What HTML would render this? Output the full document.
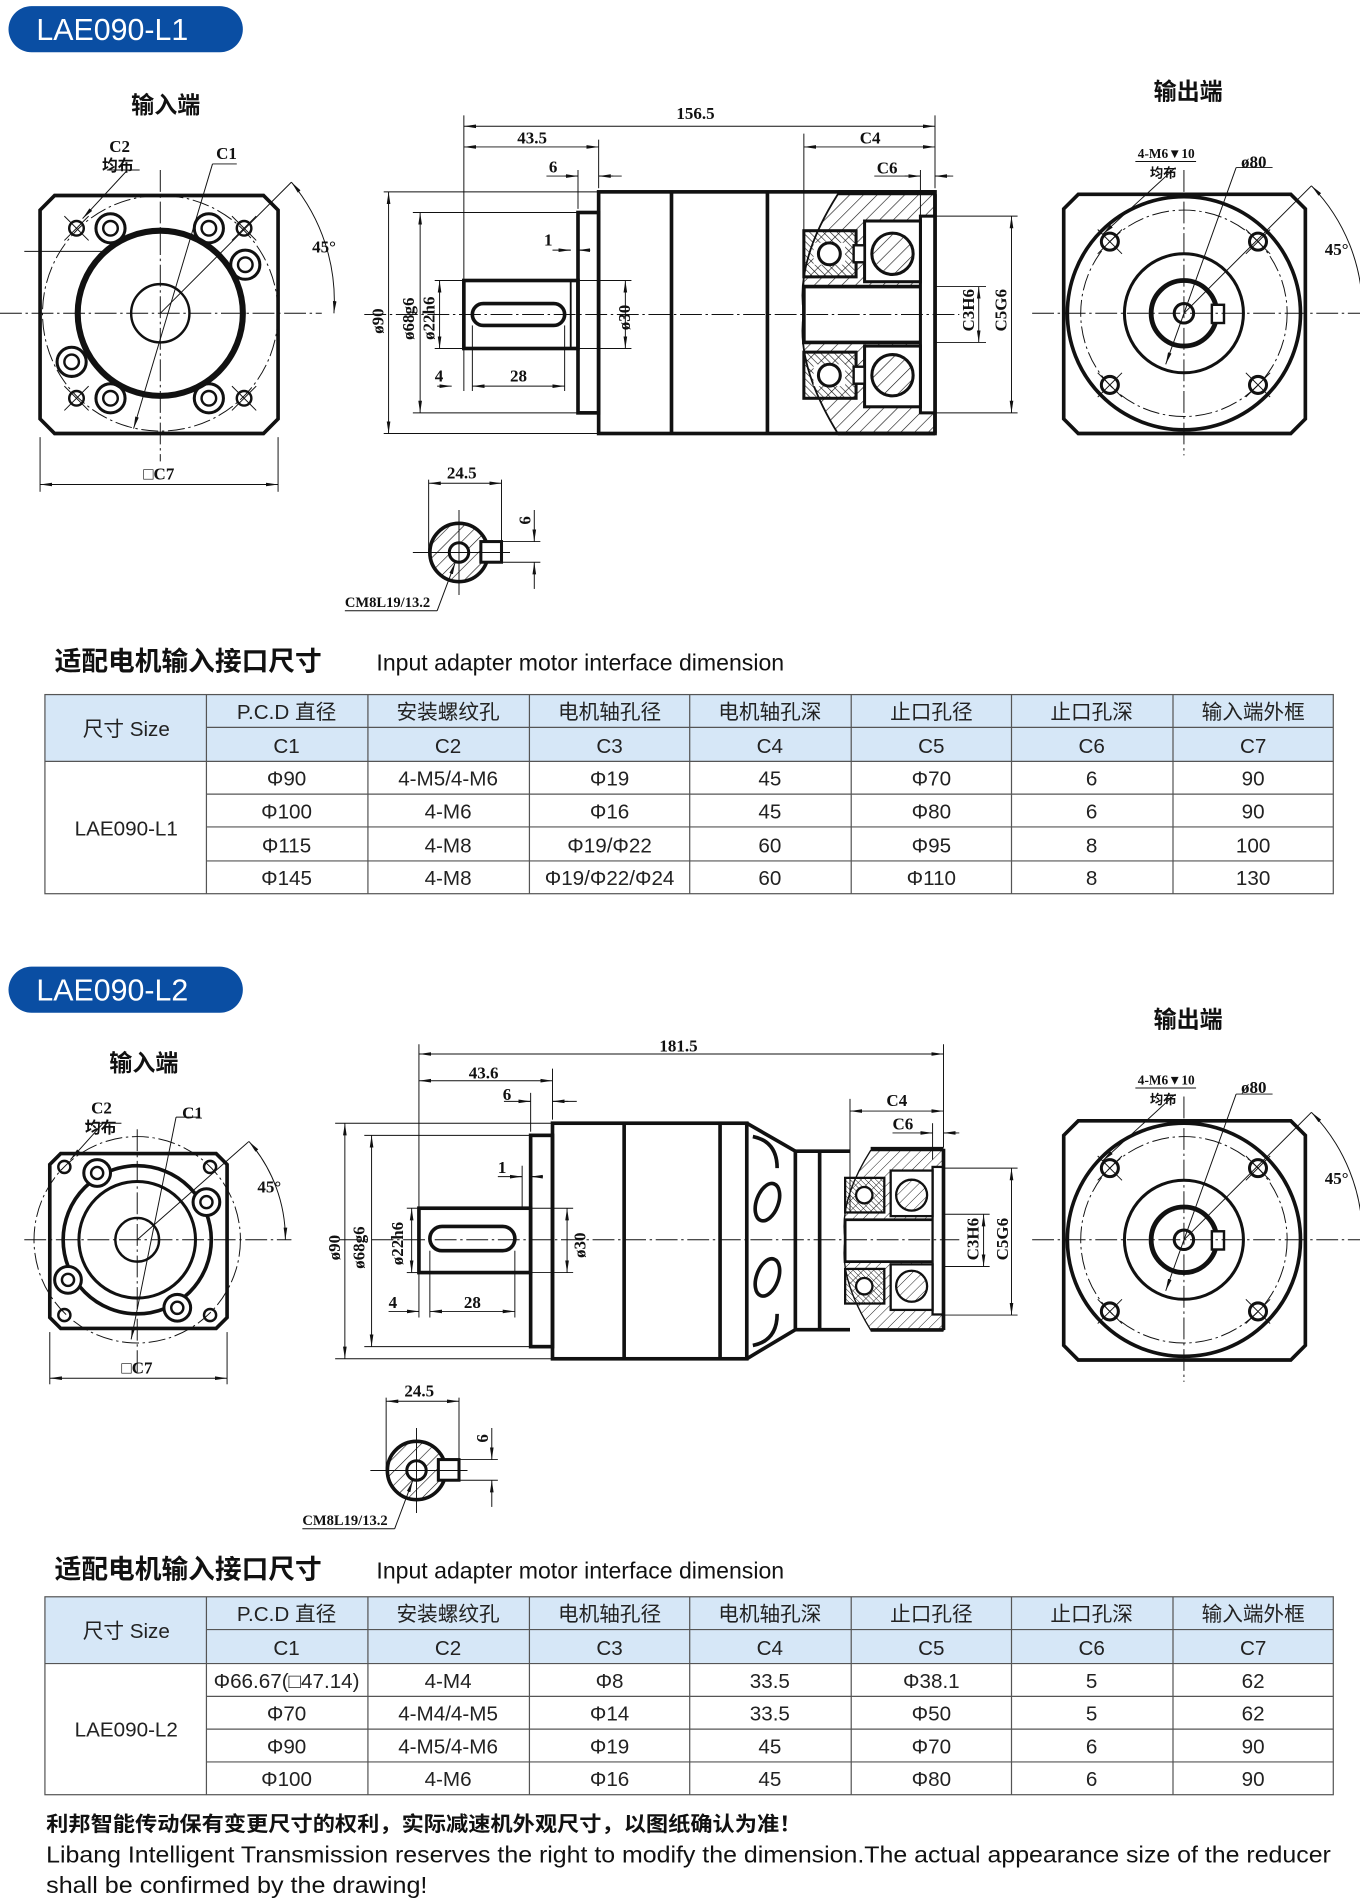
<!DOCTYPE html>
<html><head><meta charset="utf-8"><style>
html,body{margin:0;padding:0;background:#fff}
svg{display:block}
.t{font-family:"Liberation Serif","Noto Serif CJK SC",serif;font-weight:bold;font-size:14px;fill:#111}
.cn{font-family:"Liberation Sans","Noto Sans CJK SC",sans-serif;font-weight:bold;fill:#111}
.tb{font-family:"Liberation Sans","Noto Sans CJK SC",sans-serif;font-size:17px;fill:#222;text-anchor:middle}
</style></head><body>
<svg width="1360" height="1904" viewBox="0 0 1120 1568" xmlns="http://www.w3.org/2000/svg">
<defs>
<marker id="a" viewBox="0 0 10 6" refX="10" refY="3" markerWidth="10" markerHeight="6" orient="auto-start-reverse" markerUnits="userSpaceOnUse"><path d="M0,1.5 L10,3 L0,4.5z" fill="#111"/></marker>
<pattern id="h" width="8" height="8" patternUnits="userSpaceOnUse" patternTransform="rotate(45)"><line x1="0" y1="0" x2="0" y2="8" stroke="#111" stroke-width="1"/></pattern>
<pattern id="h2" width="4" height="4" patternUnits="userSpaceOnUse" patternTransform="rotate(-45)"><line x1="0" y1="0" x2="0" y2="4" stroke="#111" stroke-width="1"/></pattern>
</defs>
<g fill="none" stroke="#111">

<!-- ===== L1 ===== -->
<rect x="7" y="5" width="193" height="38" rx="19" fill="#0a4ea3" stroke="none"/>
<!-- input view -->
<path d="M45,161 H217 L229,173 V345 L217,357 H45 L33,345 V173 Z" stroke-width="3"/>
<line x1="0" y1="258" x2="265" y2="258" stroke-width="0.8" stroke-dasharray="18,3,2,3"/>
<line x1="132" y1="140" x2="132" y2="380" stroke-width="0.8" stroke-dasharray="18,3,2,3"/>
<line x1="20" y1="207" x2="90" y2="207" stroke-width="0.8"/>
<circle cx="132" cy="258" r="97" stroke-width="0.8" stroke-dasharray="14,3,2,3"/>
<circle cx="132" cy="258" r="68" stroke-width="5"/>
<circle cx="132" cy="258" r="24" stroke-width="2"/>
<g stroke-width="2.5"><circle cx="91" cy="188" r="12"/><circle cx="172" cy="188" r="12"/><circle cx="202" cy="218" r="12"/><circle cx="59" cy="298" r="12"/><circle cx="91" cy="328" r="12"/><circle cx="172" cy="328" r="12"/></g>
<g stroke-width="2"><circle cx="91" cy="188" r="6"/><circle cx="172" cy="188" r="6"/><circle cx="202" cy="218" r="6"/><circle cx="59" cy="298" r="6"/><circle cx="91" cy="328" r="6"/><circle cx="172" cy="328" r="6"/></g>
<g stroke-width="2"><circle cx="63" cy="188" r="6"/><circle cx="201" cy="188" r="6"/><circle cx="63" cy="328" r="6"/><circle cx="201" cy="328" r="6"/></g>
<g stroke-width="0.8"><path d="M53,178 L73,198 M53,198 L73,178 M191,178 L211,198 M191,198 L211,178 M53,318 L73,338 M53,338 L73,318 M191,318 L211,338 M191,338 L211,318"/>
<line x1="132" y1="258" x2="240" y2="150"/><path d="M240,150 A153,153 0 0 1 275,258" marker-start="url(#a)" marker-end="url(#a)"/>
<path d="M105,140 L68,180" marker-end="url(#a)"/><line x1="88" y1="140" x2="115" y2="140"/>
<path d="M175,135 L110,353" marker-end="url(#a)"/><line x1="175" y1="135" x2="195" y2="135"/>
<line x1="33" y1="360" x2="33" y2="405"/><line x1="229" y1="360" x2="229" y2="405"/>
<line x1="33" y1="399" x2="229" y2="399" marker-start="url(#a)" marker-end="url(#a)"/></g>

<!-- side view -->
<g stroke-width="3">
<rect x="493" y="158" width="277" height="199"/>
<line x1="553" y1="158" x2="553" y2="357"/><line x1="632" y1="158" x2="632" y2="357"/>
<rect x="476" y="175" width="17" height="165"/>
<rect x="382" y="231" width="94" height="56"/>
<rect x="389" y="250" width="76" height="18" rx="9"/>
</g>
<line x1="470" y1="231" x2="470" y2="287" stroke-width="1.5"/>
<!-- section -->
<g>
<path d="M690,160 H770 V357 H690 Q655,300 662,258 Q655,215 690,160 Z" fill="url(#h)" stroke-width="1.5"/>
<rect x="662" y="236" width="98" height="46" fill="#fff" stroke-width="3"/>
<rect x="758" y="178" width="12" height="162" fill="#fff" stroke-width="2.5"/>
<rect x="662" y="190" width="43" height="38" fill="url(#h2)" stroke-width="2.5"/>
<rect x="662" y="290" width="43" height="38" fill="url(#h2)" stroke-width="2.5"/>
<rect x="670" y="200" width="26" height="18" fill="#fff" stroke="none"/><rect x="670" y="300" width="26" height="18" fill="#fff" stroke="none"/>
<circle cx="683" cy="209" r="9" fill="#fff" stroke-width="2.5"/><circle cx="683" cy="309" r="9" fill="#fff" stroke-width="2.5"/>
<rect x="712" y="182" width="46" height="50" fill="#fff" stroke-width="2.5"/>
<rect x="712" y="285" width="46" height="50" fill="#fff" stroke-width="2.5"/>
<circle cx="735" cy="209" r="17" fill="url(#h)" stroke-width="2.5"/><circle cx="735" cy="309" r="17" fill="url(#h)" stroke-width="2.5"/>
<rect x="703" y="202" width="9" height="14" fill="#fff" stroke-width="2"/><rect x="703" y="302" width="9" height="14" fill="#fff" stroke-width="2"/>
<line x1="770" y1="160" x2="770" y2="357" stroke-width="3"/>
<line x1="690" y1="158" x2="770" y2="158" stroke-width="3"/><line x1="690" y1="357" x2="770" y2="357" stroke-width="3"/>
</g>
<line x1="300" y1="259" x2="790" y2="259" stroke-width="0.8" stroke-dasharray="18,3,2,3"/>
<g stroke-width="0.8">
<line x1="382" y1="95" x2="382" y2="322"/><line x1="770" y1="95" x2="770" y2="155"/>
<line x1="382" y1="104" x2="770" y2="104" marker-start="url(#a)" marker-end="url(#a)"/>
<line x1="493" y1="115" x2="493" y2="155"/>
<line x1="382" y1="121" x2="493" y2="121" marker-start="url(#a)" marker-end="url(#a)"/>
<line x1="476" y1="140" x2="476" y2="172"/>
<path d="M450,145 H476 M493,145 H512" /><path d="M465,145 H476" marker-end="url(#a)"/><path d="M505,145 H493" marker-end="url(#a)"/>
<path d="M455,206 H470 M476,206 H486"/><path d="M460,206 H470" marker-end="url(#a)"/><path d="M486,206 H476" marker-end="url(#a)"/>
<line x1="316" y1="158" x2="493" y2="158"/><line x1="316" y1="357" x2="493" y2="357"/>
<line x1="320" y1="158" x2="320" y2="357" marker-start="url(#a)" marker-end="url(#a)"/>
<line x1="340" y1="175" x2="476" y2="175"/><line x1="340" y1="340" x2="476" y2="340"/>
<line x1="346" y1="175" x2="346" y2="340" marker-start="url(#a)" marker-end="url(#a)"/>
<line x1="358" y1="231" x2="382" y2="231"/><line x1="358" y1="287" x2="382" y2="287"/>
<line x1="362" y1="231" x2="362" y2="287" marker-start="url(#a)" marker-end="url(#a)"/>
<line x1="476" y1="231" x2="520" y2="231"/><line x1="476" y1="287" x2="520" y2="287"/>
<line x1="515" y1="231" x2="515" y2="287" marker-start="url(#a)" marker-end="url(#a)"/>
<line x1="389" y1="268" x2="389" y2="322"/><line x1="465" y1="268" x2="465" y2="322"/>
<line x1="389" y1="318" x2="465" y2="318" marker-start="url(#a)" marker-end="url(#a)"/>
<path d="M360,318 H372" marker-end="url(#a)"/>
<line x1="662" y1="110" x2="662" y2="236"/><line x1="662" y1="121" x2="770" y2="121" marker-start="url(#a)" marker-end="url(#a)"/>
<line x1="758" y1="140" x2="758" y2="178"/>
<path d="M720,145 H758 M770,145 H785"/><path d="M745,145 H758" marker-end="url(#a)"/><path d="M782,145 H770" marker-end="url(#a)"/>
<line x1="770" y1="236" x2="812" y2="236"/><line x1="770" y1="282" x2="812" y2="282"/>
<line x1="806" y1="236" x2="806" y2="282" marker-start="url(#a)" marker-end="url(#a)"/>
<line x1="770" y1="178" x2="838" y2="178"/><line x1="770" y1="340" x2="838" y2="340"/>
<line x1="833" y1="178" x2="833" y2="340" marker-start="url(#a)" marker-end="url(#a)"/>
</g>

<!-- output view L1 -->
<g id="outv">
<path d="M888,160 H1063 L1075,172 V345 L1063,357 H888 L876,345 V172 Z" stroke-width="3"/>
<circle cx="975" cy="258" r="96" stroke-width="3"/>
<circle cx="975" cy="258" r="85" stroke-width="0.8" stroke-dasharray="14,3,2,3"/>
<circle cx="975" cy="258" r="49" stroke-width="2.5"/>
<circle cx="975" cy="258" r="27" stroke-width="4"/>
<circle cx="975" cy="258" r="8" stroke-width="2.5"/>
<rect x="998" y="251" width="10" height="15" stroke-width="2" fill="#fff"/>
<g stroke-width="2.5"><circle cx="914" cy="199" r="7"/><circle cx="1036" cy="199" r="7"/><circle cx="914" cy="317" r="7"/><circle cx="1036" cy="317" r="7"/></g>
<g stroke-width="0.8">
<path d="M904,189 L924,209 M924,189 L904,209 M1026,189 L1046,209 M1046,189 L1026,209 M904,307 L924,327 M924,307 L904,327 M1026,307 L1046,327 M1046,307 L1026,327"/>
<line x1="850" y1="258" x2="1120" y2="258" stroke-dasharray="18,3,2,3"/>
<line x1="975" y1="140" x2="975" y2="375" stroke-dasharray="18,3,2,3"/>
<line x1="975" y1="258" x2="1080" y2="153"/>
<path d="M1080,153 A148,148 0 0 1 1122,258" marker-start="url(#a)" marker-end="url(#a)"/>
<path d="M968,138 L908,193" marker-end="url(#a)"/><line x1="935" y1="133" x2="985" y2="133"/>
<path d="M1018,138 L960,300" marker-end="url(#a)"/><line x1="1018" y1="138" x2="1048" y2="138"/>
</g>
</g>

<!-- key section L1 -->
<g id="key">
<circle cx="378" cy="455" r="24" fill="url(#h)" stroke-width="3"/>
<rect x="396" y="446" width="17" height="17" fill="#fff" stroke-width="2.5"/>
<circle cx="378" cy="455" r="8" fill="#fff" stroke-width="2.5"/>
<g stroke-width="0.8">
<line x1="353" y1="395" x2="353" y2="455"/><line x1="413" y1="395" x2="413" y2="446"/>
<line x1="353" y1="398" x2="413" y2="398" marker-start="url(#a)" marker-end="url(#a)"/>
<line x1="413" y1="446" x2="445" y2="446"/><line x1="413" y1="463" x2="445" y2="463"/>
<line x1="440" y1="420" x2="440" y2="446" marker-end="url(#a)"/><line x1="440" y1="485" x2="440" y2="463" marker-end="url(#a)"/>
<line x1="340" y1="455" x2="420" y2="455"/><line x1="378" y1="420" x2="378" y2="490"/>
<path d="M360,503 L375,463" marker-end="url(#a)"/><line x1="284" y1="503" x2="360" y2="503"/>
</g>
</g>

<!-- L2 copies -->
<use href="#outv" transform="translate(0,763)"/>
<use href="#key" transform="translate(-35,756)"/>
</g>

<g class="t">
<text x="108" y="93" class="cn" font-size="19">输入端</text>
<text x="950" y="82" class="cn" font-size="19">输出端</text>
<text x="90" y="125">C2</text><text x="84" y="141" class="cn" font-size="13">均布</text>
<text x="178" y="131">C1</text>
<text x="257" y="208">45°</text>
<text x="118" y="395">□C7</text>
<text x="557" y="98">156.5</text>
<text x="426" y="118">43.5</text>
<text x="452" y="142">6</text>
<text x="448" y="202">1</text>
<text x="358" y="314">4</text>
<text x="420" y="314">28</text>
<text x="708" y="118">C4</text>
<text x="722" y="143">C6</text>
<text x="0" y="0" transform="translate(316,275) rotate(-90)">ø90</text>
<text x="0" y="0" transform="translate(341,280) rotate(-90)">ø68g6</text>
<text x="0" y="0" transform="translate(358,280) rotate(-90)">ø22h6</text>
<text x="0" y="0" transform="translate(519,272) rotate(-90)">ø30</text>
<text x="0" y="0" transform="translate(802,273) rotate(-90)">C3H6</text>
<text x="0" y="0" transform="translate(829,273) rotate(-90)">C5G6</text>
<text x="937" y="130" font-size="11">4-M6▼10</text><text x="947" y="146" class="cn" font-size="11">均布</text>
<text x="1022" y="138">ø80</text>
<text x="1091" y="210">45°</text>
<text x="368" y="394">24.5</text>
<text x="0" y="0" transform="translate(437,432) rotate(-90)">6</text>
<text x="284" y="500" font-size="12">CM8L19/13.2</text>
</g>
<text x="30" y="33" font-family="Liberation Sans,sans-serif" font-size="25" fill="#fff">LAE090-L1</text>

<!-- ===== L2 ===== -->
<rect x="7" y="796" width="193" height="38" rx="19" fill="#0a4ea3"/>
<text x="30" y="824" font-family="Liberation Sans,sans-serif" font-size="25" fill="#fff">LAE090-L2</text>
<g fill="none" stroke="#111">
<path d="M50,950 H178 L187,959 V1085 L178,1094 H50 L41,1085 V959 Z" stroke-width="3"/>
<circle cx="113" cy="1021" r="85" stroke-width="0.8" stroke-dasharray="14,3,2,3"/>
<circle cx="113" cy="1021" r="61" stroke-width="3"/>
<circle cx="113" cy="1021" r="48" stroke-width="2.5"/>
<circle cx="113" cy="1021" r="18" stroke-width="2"/>
<g stroke-width="2.5"><circle cx="80" cy="966" r="11" fill="#fff"/><circle cx="170" cy="990" r="11" fill="#fff"/><circle cx="56" cy="1054" r="11" fill="#fff"/><circle cx="146" cy="1077" r="11" fill="#fff"/></g>
<g stroke-width="2"><circle cx="80" cy="966" r="5"/><circle cx="170" cy="990" r="5"/><circle cx="56" cy="1054" r="5"/><circle cx="146" cy="1077" r="5"/>
<circle cx="53" cy="961" r="5"/><circle cx="173" cy="961" r="5"/><circle cx="53" cy="1083" r="5"/><circle cx="173" cy="1083" r="5"/></g>
<g stroke-width="0.8">
<line x1="20" y1="1021" x2="240" y2="1021" stroke-dasharray="18,3,2,3"/>
<line x1="113" y1="930" x2="113" y2="1130" stroke-dasharray="18,3,2,3"/>
<line x1="113" y1="1021" x2="205" y2="940"/><path d="M205,940 A122,122 0 0 1 235,1021" marker-start="url(#a)" marker-end="url(#a)"/>
<path d="M85,925 L58,955" marker-end="url(#a)"/><line x1="70" y1="925" x2="100" y2="925"/>
<path d="M145,920 L108,1103" marker-end="url(#a)"/><line x1="145" y1="920" x2="165" y2="920"/>
<line x1="41" y1="1097" x2="41" y2="1140"/><line x1="187" y1="1097" x2="187" y2="1140"/>
<line x1="41" y1="1135" x2="187" y2="1135" marker-start="url(#a)" marker-end="url(#a)"/>
</g>

<!-- side L2 -->
<g stroke-width="3">
<rect x="455" y="925" width="160" height="194"/>
<line x1="514" y1="925" x2="514" y2="1119"/><line x1="593" y1="925" x2="593" y2="1119"/>
<path d="M615,925 L655,948 M615,1119 L655,1095"/>
<line x1="655" y1="948" x2="655" y2="1095"/><line x1="675" y1="948" x2="675" y2="1095"/>
<line x1="655" y1="948" x2="700" y2="948"/><line x1="655" y1="1095" x2="700" y2="1095"/>
<rect x="437" y="935" width="18" height="174"/>
<rect x="345" y="995" width="92" height="53"/>
<rect x="354" y="1010" width="70" height="20" rx="10"/>
<path d="M620,936 Q640,940 640,962"/>
<ellipse cx="632" cy="990" rx="9" ry="16" transform="rotate(20 632 990)"/>
<ellipse cx="632" cy="1052" rx="9" ry="16" transform="rotate(20 632 1052)"/>
<path d="M620,1108 Q640,1104 640,1082"/>
</g>
<g transform="translate(777,1021) scale(0.75) translate(-770,-258)">
<path d="M690,160 H770 V357 H690 Q655,300 662,258 Q655,215 690,160 Z" fill="url(#h)" stroke-width="1.5"/>
<rect x="662" y="236" width="98" height="46" fill="#fff" stroke-width="3"/>
<rect x="758" y="178" width="12" height="162" fill="#fff" stroke-width="2.5"/>
<rect x="662" y="190" width="43" height="38" fill="url(#h2)" stroke-width="2.5"/>
<rect x="662" y="290" width="43" height="38" fill="url(#h2)" stroke-width="2.5"/>
<circle cx="683" cy="209" r="9" fill="#fff" stroke-width="2.5"/><circle cx="683" cy="309" r="9" fill="#fff" stroke-width="2.5"/>
<rect x="712" y="182" width="46" height="50" fill="#fff" stroke-width="2.5"/>
<rect x="712" y="285" width="46" height="50" fill="#fff" stroke-width="2.5"/>
<circle cx="735" cy="209" r="17" fill="url(#h)" stroke-width="2.5"/><circle cx="735" cy="309" r="17" fill="url(#h)" stroke-width="2.5"/>
<line x1="770" y1="158" x2="770" y2="357" stroke-width="4"/>
<line x1="690" y1="158" x2="770" y2="158" stroke-width="4"/><line x1="690" y1="357" x2="770" y2="357" stroke-width="4"/>
</g>
<g stroke-width="0.8">
<line x1="280" y1="1021" x2="790" y2="1021" stroke-dasharray="18,3,2,3"/>
<line x1="345" y1="860" x2="345" y2="1085"/><line x1="777" y1="860" x2="777" y2="945"/>
<line x1="345" y1="868" x2="777" y2="868" marker-start="url(#a)" marker-end="url(#a)"/>
<line x1="455" y1="880" x2="455" y2="922"/>
<line x1="345" y1="890" x2="455" y2="890" marker-start="url(#a)" marker-end="url(#a)"/>
<line x1="437" y1="900" x2="437" y2="932"/>
<path d="M415,907 H437 M455,907 H475"/><path d="M428,907 H437" marker-end="url(#a)"/><path d="M468,907 H455" marker-end="url(#a)"/>
<path d="M410,969 H430 M437,969 H447"/><path d="M420,969 H430" marker-end="url(#a)"/><path d="M447,969 H437" marker-end="url(#a)"/>
<line x1="430" y1="960" x2="430" y2="995"/>
<line x1="276" y1="925" x2="455" y2="925"/><line x1="276" y1="1119" x2="455" y2="1119"/>
<line x1="284" y1="925" x2="284" y2="1119" marker-start="url(#a)" marker-end="url(#a)"/>
<line x1="300" y1="935" x2="437" y2="935"/><line x1="300" y1="1109" x2="437" y2="1109"/>
<line x1="306" y1="935" x2="306" y2="1109" marker-start="url(#a)" marker-end="url(#a)"/>
<line x1="335" y1="995" x2="345" y2="995"/><line x1="335" y1="1048" x2="345" y2="1048"/>
<line x1="339" y1="995" x2="339" y2="1048" marker-start="url(#a)" marker-end="url(#a)"/>
<line x1="437" y1="995" x2="472" y2="995"/><line x1="437" y1="1048" x2="472" y2="1048"/>
<line x1="467" y1="995" x2="467" y2="1048" marker-start="url(#a)" marker-end="url(#a)"/>
<line x1="354" y1="1030" x2="354" y2="1085"/><line x1="424" y1="1030" x2="424" y2="1085"/>
<line x1="354" y1="1080" x2="424" y2="1080" marker-start="url(#a)" marker-end="url(#a)"/>
<path d="M320,1080 H345" /><path d="M335,1080 H345" marker-end="url(#a)"/>
<line x1="700" y1="905" x2="700" y2="998"/><line x1="700" y1="915" x2="777" y2="915" marker-start="url(#a)" marker-end="url(#a)"/>
<line x1="768" y1="925" x2="768" y2="955"/>
<path d="M735,933 H768 M777,933 H790"/><path d="M758,933 H768" marker-end="url(#a)"/><path d="M788,933 H777" marker-end="url(#a)"/>
<line x1="777" y1="1000" x2="815" y2="1000"/><line x1="777" y1="1043" x2="815" y2="1043"/>
<line x1="810" y1="1000" x2="810" y2="1043" marker-start="url(#a)" marker-end="url(#a)"/>
<line x1="777" y1="962" x2="838" y2="962"/><line x1="777" y1="1083" x2="838" y2="1083"/>
<line x1="833" y1="962" x2="833" y2="1083" marker-start="url(#a)" marker-end="url(#a)"/>
</g>
</g>
<g class="t">
<text x="90" y="882" class="cn" font-size="19">输入端</text>
<text x="950" y="846" class="cn" font-size="19">输出端</text>
<text x="75" y="917">C2</text><text x="70" y="933" class="cn" font-size="13">均布</text>
<text x="150" y="921">C1</text>
<text x="212" y="982">45°</text>
<text x="100" y="1131">□C7</text>
<text x="543" y="866">181.5</text>
<text x="386" y="888">43.6</text>
<text x="414" y="906">6</text>
<text x="410" y="966">1</text>
<text x="320" y="1077">4</text>
<text x="382" y="1077">28</text>
<text x="730" y="911">C4</text>
<text x="735" y="930">C6</text>
<text x="0" y="0" transform="translate(280,1038) rotate(-90)">ø90</text>
<text x="0" y="0" transform="translate(300,1045) rotate(-90)">ø68g6</text>
<text x="0" y="0" transform="translate(332,1042) rotate(-90)">ø22h6</text>
<text x="0" y="0" transform="translate(482,1036) rotate(-90)">ø30</text>
<text x="0" y="0" transform="translate(806,1038) rotate(-90)">C3H6</text>
<text x="0" y="0" transform="translate(830,1038) rotate(-90)">C5G6</text>
<text x="937" y="893" font-size="11">4-M6▼10</text><text x="947" y="909" class="cn" font-size="11">均布</text>
<text x="1022" y="900">ø80</text>
<text x="1091" y="975">45°</text>
<text x="333" y="1150">24.5</text>
<text x="0" y="0" transform="translate(402,1188) rotate(-90)">6</text>
<text x="249" y="1256" font-size="12">CM8L19/13.2</text>
</g>

<!-- headings -->
<text x="45" y="552" class="cn" font-size="22">适配电机输入接口尺寸</text>
<text x="310" y="552" font-family="Liberation Sans,sans-serif" font-size="19" fill="#111">Input adapter motor interface dimension</text>
<text x="45" y="1300" class="cn" font-size="22">适配电机输入接口尺寸</text>
<text x="310" y="1300" font-family="Liberation Sans,sans-serif" font-size="19" fill="#111">Input adapter motor interface dimension</text>

<!-- table 1 -->
<g>
<rect x="37" y="572" width="1061" height="55" fill="#d6e7f7"/>
<g stroke="#555" stroke-width="1" fill="none">
<rect x="37" y="572" width="1061" height="164"/>
<line x1="170" y1="599" x2="1098" y2="599"/><line x1="37" y1="627" x2="1098" y2="627"/>
<line x1="170" y1="654" x2="1098" y2="654"/><line x1="170" y1="681" x2="1098" y2="681"/><line x1="170" y1="709" x2="1098" y2="709"/>
<path d="M170,572V736 M303,572V736 M436,572V736 M568,572V736 M701,572V736 M833,572V736 M966,572V736"/>
</g>
<g class="tb">
<text x="104" y="606">尺寸 Size</text><text x="104" y="688">LAE090-L1</text>
<text x="236" y="592">P.C.D 直径</text><text x="369" y="592">安装螺纹孔</text><text x="502" y="592">电机轴孔径</text><text x="634" y="592">电机轴孔深</text><text x="767" y="592">止口孔径</text><text x="899" y="592">止口孔深</text><text x="1032" y="592">输入端外框</text>
<text x="236" y="620">C1</text><text x="369" y="620">C2</text><text x="502" y="620">C3</text><text x="634" y="620">C4</text><text x="767" y="620">C5</text><text x="899" y="620">C6</text><text x="1032" y="620">C7</text>
<text x="236" y="647">Φ90</text><text x="369" y="647">4-M5/4-M6</text><text x="502" y="647">Φ19</text><text x="634" y="647">45</text><text x="767" y="647">Φ70</text><text x="899" y="647">6</text><text x="1032" y="647">90</text>
<text x="236" y="674">Φ100</text><text x="369" y="674">4-M6</text><text x="502" y="674">Φ16</text><text x="634" y="674">45</text><text x="767" y="674">Φ80</text><text x="899" y="674">6</text><text x="1032" y="674">90</text>
<text x="236" y="702">Φ115</text><text x="369" y="702">4-M8</text><text x="502" y="702">Φ19/Φ22</text><text x="634" y="702">60</text><text x="767" y="702">Φ95</text><text x="899" y="702">8</text><text x="1032" y="702">100</text>
<text x="236" y="729">Φ145</text><text x="369" y="729">4-M8</text><text x="502" y="729">Φ19/Φ22/Φ24</text><text x="634" y="729">60</text><text x="767" y="729">Φ110</text><text x="899" y="729">8</text><text x="1032" y="729">130</text>
</g>
</g>

<!-- table 2 -->
<g>
<rect x="37" y="1315" width="1061" height="55" fill="#d6e7f7"/>
<g stroke="#555" stroke-width="1" fill="none">
<rect x="37" y="1315" width="1061" height="163"/>
<line x1="170" y1="1342" x2="1098" y2="1342"/><line x1="37" y1="1370" x2="1098" y2="1370"/>
<line x1="170" y1="1397" x2="1098" y2="1397"/><line x1="170" y1="1424" x2="1098" y2="1424"/><line x1="170" y1="1451" x2="1098" y2="1451"/>
<path d="M170,1315V1478 M303,1315V1478 M436,1315V1478 M568,1315V1478 M701,1315V1478 M833,1315V1478 M966,1315V1478"/>
</g>
<g class="tb">
<text x="104" y="1349">尺寸 Size</text><text x="104" y="1430">LAE090-L2</text>
<text x="236" y="1335">P.C.D 直径</text><text x="369" y="1335">安装螺纹孔</text><text x="502" y="1335">电机轴孔径</text><text x="634" y="1335">电机轴孔深</text><text x="767" y="1335">止口孔径</text><text x="899" y="1335">止口孔深</text><text x="1032" y="1335">输入端外框</text>
<text x="236" y="1363">C1</text><text x="369" y="1363">C2</text><text x="502" y="1363">C3</text><text x="634" y="1363">C4</text><text x="767" y="1363">C5</text><text x="899" y="1363">C6</text><text x="1032" y="1363">C7</text>
<text x="236" y="1390">Φ66.67(□47.14)</text><text x="369" y="1390">4-M4</text><text x="502" y="1390">Φ8</text><text x="634" y="1390">33.5</text><text x="767" y="1390">Φ38.1</text><text x="899" y="1390">5</text><text x="1032" y="1390">62</text>
<text x="236" y="1417">Φ70</text><text x="369" y="1417">4-M4/4-M5</text><text x="502" y="1417">Φ14</text><text x="634" y="1417">33.5</text><text x="767" y="1417">Φ50</text><text x="899" y="1417">5</text><text x="1032" y="1417">62</text>
<text x="236" y="1444">Φ90</text><text x="369" y="1444">4-M5/4-M6</text><text x="502" y="1444">Φ19</text><text x="634" y="1444">45</text><text x="767" y="1444">Φ70</text><text x="899" y="1444">6</text><text x="1032" y="1444">90</text>
<text x="236" y="1471">Φ100</text><text x="369" y="1471">4-M6</text><text x="502" y="1471">Φ16</text><text x="634" y="1471">45</text><text x="767" y="1471">Φ80</text><text x="899" y="1471">6</text><text x="1032" y="1471">90</text>
</g>
</g>

<!-- footer -->
<text x="38" y="1508" class="cn" font-size="17" textLength="622" lengthAdjust="spacingAndGlyphs">利邦智能传动保有变更尺寸的权利，实际减速机外观尺寸，以图纸确认为准！</text>
<text x="38" y="1534" font-family="Liberation Sans,sans-serif" font-size="19" fill="#111" textLength="1058" lengthAdjust="spacingAndGlyphs">Libang Intelligent Transmission reserves the right to modify the dimension.The actual appearance size of the reducer</text>
<text x="38" y="1559" font-family="Liberation Sans,sans-serif" font-size="19" fill="#111" textLength="314" lengthAdjust="spacingAndGlyphs">shall be confirmed by the drawing!</text>
</svg>
</body></html>
